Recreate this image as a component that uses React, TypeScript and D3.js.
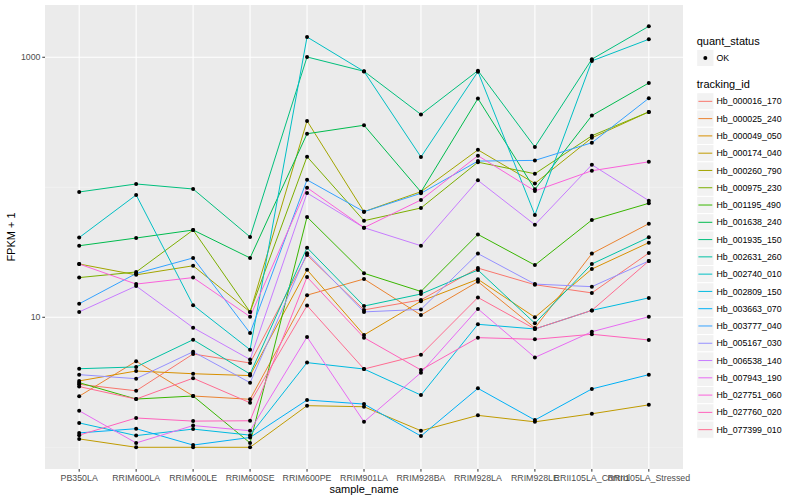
import React from "react";
import * as d3 from "d3";

const samples = [
  "PB350LA", "RRIM600LA", "RRIM600LE", "RRIM600SE", "RRIM600PE", "RRIM901LA",
  "RRIM928BA", "RRIM928LA", "RRIM928LE", "RRII105LA_Control", "RRII105LA_Stressed",
];

const trackingIds = [
  "Hb_000016_170", "Hb_000025_240", "Hb_000049_050", "Hb_000174_040", "Hb_000260_790",
  "Hb_000975_230", "Hb_001195_490", "Hb_001638_240", "Hb_001935_150", "Hb_002631_260",
  "Hb_002740_010", "Hb_002809_150", "Hb_003663_070", "Hb_003777_040", "Hb_005167_030",
  "Hb_006538_140", "Hb_007943_190", "Hb_027751_060", "Hb_027760_020", "Hb_077399_010",
];

const colors = [
  "#F8766D", "#EA8331", "#D89000", "#C09B00", "#A3A500", "#7CAE00", "#39B600", "#00BB4E",
  "#00BF7D", "#00C1A3", "#00BFC4", "#00BAE0", "#00B0F6", "#35A2FF", "#9590FF", "#C77CFF",
  "#E76BF3", "#FA62DB", "#FF62BC", "#FF6C91",
];

// FPKM + 1 per sample, in sample order
const hb000016_170 = [3.05, 2.72, 5.22, 4.45, 30.1, 11.4, 13.6, 23.9, 17.8, 15.4, 31.2];
const hb000025_240 = [2.47, 4.59, 2.48, 2.34, 14.8, 19.7, 10.4, 18.8, 8.27, 30.9, 52.5];
const hb000049_050 = [3.24, 3.86, 3.68, 3.56, 23.2, 7.31, 13.3, 19.6, 10.0, 23.5, 37.5];
const hb000174_040 = [1.16, 1.0, 1.0, 1.0, 2.09, 2.05, 1.34, 1.76, 1.57, 1.81, 2.12];
const hb000260_790 = [25.7, 21.2, 24.9, 11.0, 324, 64.9, 92.5, 194, 107, 240, 380];
const hb000975_230 = [20.2, 22.3, 46.9, 11.0, 172, 55.3, 69.3, 156, 127, 249, 380];
const hb001195_490 = [3.14, 2.35, 2.48, 1.08, 59.1, 21.8, 15.8, 43.4, 25.2, 56.0, 75.3];
const hb001638_240 = [35.5, 40.7, 46.9, 28.6, 258, 300, 92, 481, 96.5, 356, 634];
const hb001935_150 = [92.0, 106, 97.0, 41.5, 1005, 780, 363, 789, 204, 966, 1730];
const hb002631_260 = [4.02, 4.15, 6.72, 3.66, 34.3, 12.2, 15.1, 23.1, 8.99, 25.7, 41.2];
const hb002740_010 = [41.0, 87.3, 12.4, 5.63, 1432, 778, 171, 775, 61.2, 937, 1375];
const hb002809_150 = [1.54, 1.23, 1.38, 1.24, 4.48, 4.0, 2.52, 8.83, 8.13, 11.3, 14.1];
const hb003663_070 = [1.29, 1.39, 1.04, 1.19, 2.31, 2.15, 1.22, 2.84, 1.62, 2.81, 3.62];
const hb003777_040 = [12.7, 21.7, 28.6, 7.57, 114, 64.9, 89.9, 159, 161, 220, 484];
const hb005167_030 = [3.62, 3.37, 5.43, 3.14, 31.1, 11.0, 11.5, 30.9, 18.0, 17.2, 27.1];
const hb006538_140 = [11.0, 17.4, 8.32, 4.73, 90.4, 48.9, 35.5, 113, 51.5, 149, 78.9];
const hb007943_190 = [1.91, 1.08, 1.47, 1.34, 7.05, 1.57, 3.75, 11.6, 4.91, 7.74, 10.1];
const hb027751_060 = [25.7, 18.0, 20.2, 10.1, 99.3, 48.9, 79.9, 175, 93.7, 134, 157];
const hb027760_020 = [1.24, 1.68, 1.59, 1.6, 20.4, 6.97, 3.93, 6.97, 6.77, 7.4, 6.69];
const hb077399_010 = [2.93, 2.35, 3.4, 2.2, 12.3, 4.0, 5.15, 14.2, 8.13, 11.3, 27.1];

const seriesValues = [
  hb000016_170, hb000025_240, hb000049_050, hb000174_040, hb000260_790,
  hb000975_230, hb001195_490, hb001638_240, hb001935_150, hb002631_260,
  hb002740_010, hb002809_150, hb003663_070, hb003777_040, hb005167_030,
  hb006538_140, hb007943_190, hb027751_060, hb027760_020, hb077399_010,
];

const yMajorTicks = [10, 1000];
const yMinorTicks = [1, 100];

const FONT = "'Liberation Sans', Arial, Helvetica, sans-serif";

export default function App() {
  const W = 800, H = 500;
  const left = 45, right = 683, top = 5, bottom = 469;

  const x = d3.scalePoint<string>().domain(samples).range([left, right]).padding(0.6);
  const y = d3.scaleLog().domain([Math.pow(10, -0.167), Math.pow(10, 3.402)]).range([bottom, top]);

  const line = d3.line<number>()
    .x((_, i) => x(samples[i]) as number)
    .y((d) => y(d));

  const keyY0 = 92.7, keyH = 17.28, keyX = 696.7, keyW = 17.28;

  return (
    <div style={{ position: "fixed", left: 0, top: 0, width: W, height: H, background: "#fff" }}>
      <svg width={W} height={H} style={{ display: "block", fontFamily: FONT }}>
        <rect x={0} y={0} width={W} height={H} fill="#fff" />
        <rect x={left} y={top} width={right - left} height={bottom - top} fill="#EBEBEB" />
        {yMinorTicks.map((t) => (
          <line key={"mi" + t} x1={left} x2={right} y1={y(t)} y2={y(t)} stroke="#F5F5F5" strokeWidth={0.6} />
        ))}
        {yMajorTicks.map((t) => (
          <line key={"ma" + t} x1={left} x2={right} y1={y(t)} y2={y(t)} stroke="#fff" strokeWidth={1.1} />
        ))}
        {samples.map((s) => (
          <line key={"vx" + s} x1={x(s)} x2={x(s)} y1={top} y2={bottom} stroke="#fff" strokeWidth={1.1} />
        ))}
        {seriesValues.map((vals, i) => (
          <path key={"ln" + i} d={line(vals) || ""} fill="none" stroke={colors[i]} strokeWidth={1} />
        ))}
        {seriesValues.map((vals, i) =>
          vals.map((v, j) => (
            <circle key={"pt" + i + "-" + j} cx={x(samples[j])} cy={y(v)} r={2} fill="#000" />
          ))
        )}
        {/* y axis */}
        {yMajorTicks.map((t) => (
          <g key={"yt" + t}>
            <line x1={left - 2.7} x2={left} y1={y(t)} y2={y(t)} stroke="#333" strokeWidth={1} />
            <text x={left - 4.5} y={y(t)} dy="0.35em" textAnchor="end" fontSize={8.8} fill="#4D4D4D">{t}</text>
          </g>
        ))}
        {/* x axis */}
        {samples.map((s) => (
          <g key={"xt" + s}>
            <line x1={x(s)} x2={x(s)} y1={bottom} y2={bottom + 2.7} stroke="#333" strokeWidth={1} />
            <text x={x(s)} y={bottom + 12} textAnchor="middle" fontSize={8.8} fill="#4D4D4D">{s}</text>
          </g>
        ))}
        <text x={(left + right) / 2} y={493} textAnchor="middle" fontSize={11} fill="#000">sample_name</text>
        <text transform={`translate(15,${(top + bottom) / 2}) rotate(-90)`} textAnchor="middle" fontSize={11} fill="#000">FPKM + 1</text>

        {/* legend: quant_status */}
        <text x={696.7} y={44.5} fontSize={11} fill="#000">quant_status</text>
        <rect x={keyX} y={49.3} width={keyW} height={keyH} fill="#F2F2F2" stroke="#fff" strokeWidth={1} />
        <circle cx={keyX + keyW / 2} cy={49.3 + keyH / 2} r={2} fill="#000" />
        <text x={716.5} y={49.3 + keyH / 2} dy="0.35em" fontSize={8.8} fill="#000">OK</text>

        {/* legend: tracking_id */}
        <text x={696.7} y={88} fontSize={11} fill="#000">tracking_id</text>
        {trackingIds.map((id, i) => {
          const ky = keyY0 + i * keyH;
          return (
            <g key={"lg" + id}>
              <rect x={keyX} y={ky} width={keyW} height={keyH} fill="#F2F2F2" stroke="#fff" strokeWidth={1} />
              <line x1={keyX + 1.7} x2={keyX + keyW - 1.7} y1={ky + keyH / 2} y2={ky + keyH / 2} stroke={colors[i]} strokeWidth={1} />
              <text x={716.5} y={ky + keyH / 2} dy="0.35em" fontSize={8.8} fill="#000">{id}</text>
            </g>
          );
        })}
      </svg>
    </div>
  );
}
